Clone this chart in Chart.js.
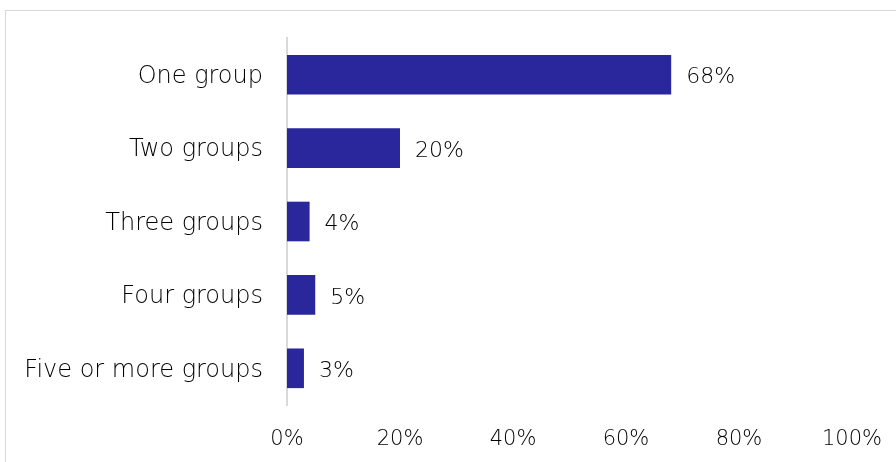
<!DOCTYPE html>
<html>
<head>
<meta charset="utf-8">
<script src="https://cdn.jsdelivr.net/npm/chart.js@4.4.1/dist/chart.umd.min.js"></script>
<style>
    html, body { margin: 0; padding: 0; background: #fff; overflow: hidden; }
    #wrap { position: relative; width: 896px; height: 462px; }
    #frame { position: absolute; left: 5px; top: 10px; width: 920px; height: 480px; border: 1px solid #d9d9d9; box-sizing: border-box; }
    #chart { position: absolute; left: 0; top: 0; }
</style>
</head>
<body>
<div id="wrap">
    <div id="frame"></div>
    <canvas id="chart" width="896" height="462"></canvas>
</div>
<script>
// Share of respondents by number of groups
const categories = ['One group', 'Two groups', 'Three groups', 'Four groups', 'Five or more groups'];
const shares = [68, 20, 4, 5, 3];
const tickValues = [0, 20, 40, 60, 80, 100];

const barColor = '#29279b';
const textColor = '#000000';
const fontFamily = '"DejaVu Sans", sans-serif';

// Value labels drawn just past the end of each bar
const valueLabels = {
    id: 'valueLabels',
    afterDatasetsDraw(chart) {
        const ctx = chart.ctx;
        const meta = chart.getDatasetMeta(0);
        ctx.save();
        ctx.font = '300 22px ' + fontFamily;
        ctx.fillStyle = textColor;
        ctx.textAlign = 'left';
        ctx.textBaseline = 'middle';
        meta.data.forEach((bar, i) => {
            ctx.fillText(shares[i] + '%', bar.x + 15, bar.y + 3);
        });
        ctx.restore();
    }
};

new Chart(document.getElementById('chart'), {
    type: 'bar',
    data: {
        labels: categories,
        datasets: [{
            data: shares,
            backgroundColor: barColor,
            borderWidth: 0,
            categoryPercentage: 1,
            barPercentage: 0.54
        }]
    },
    options: {
        indexAxis: 'y',
        responsive: false,
        animation: false,
        layout: { padding: { top: 38, right: 44, left: 0, bottom: 0 } },
        plugins: {
            legend: { display: false },
            tooltip: { enabled: false }
        },
        scales: {
            x: {
                min: 0,
                max: 100,
                afterBuildTicks(scale) {
                    scale.ticks = tickValues.map(v => ({ value: v }));
                },
                afterFit(scale) { scale.height = 57; },
                grid: { display: false },
                border: { display: false },
                ticks: {
                    color: textColor,
                    padding: 14,
                    font: { family: fontFamily, size: 21, weight: 300 },
                    callback: v => v + '%'
                }
            },
            y: {
                afterFit(scale) { scale.width = 287; },
                grid: { display: false },
                border: { display: true, color: '#d9d9d9', width: 2 },
                ticks: {
                    color: textColor,
                    padding: 16,
                    labelOffset: 2,
                    font: { family: fontFamily, size: 24, weight: 300 }
                }
            }
        }
    },
    plugins: [valueLabels]
});
</script>
</body>
</html>
